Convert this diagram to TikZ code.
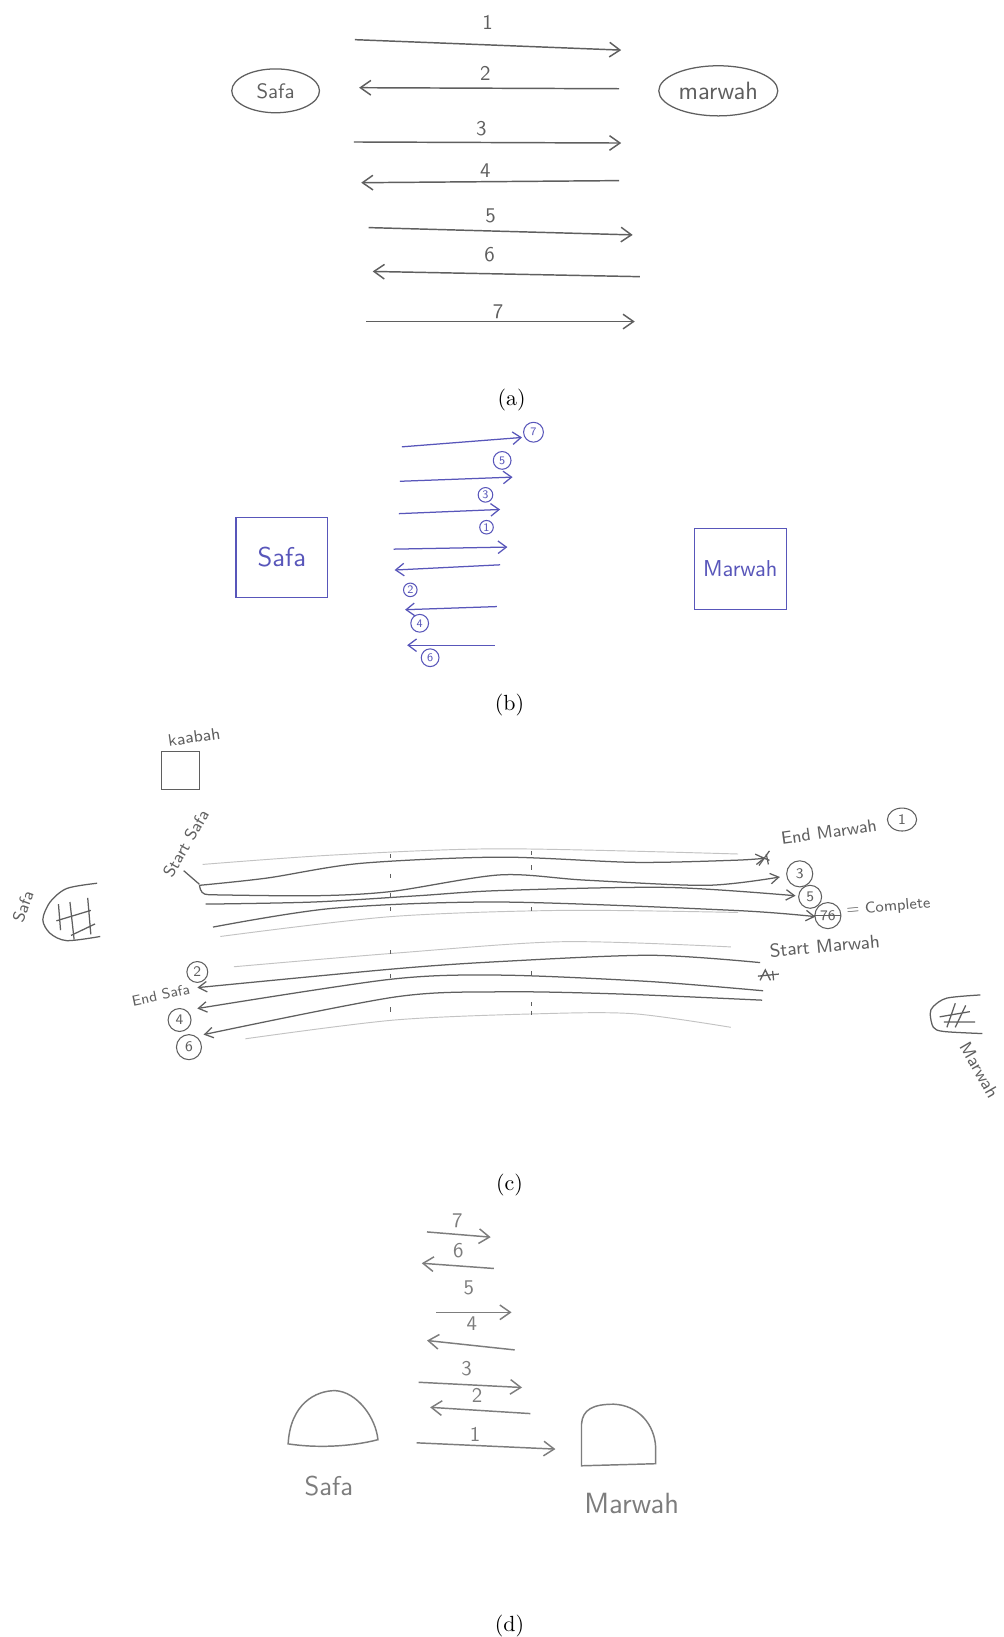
\documentclass[tikz,border=0pt]{standalone}
\usetikzlibrary{arrows.meta,positioning,shapes.geometric}
\definecolor{pencil}{RGB}{95,95,95}
\definecolor{pencilsoft}{RGB}{125,125,125}
\definecolor{pencilfaint}{RGB}{195,195,195}
\definecolor{inkblue}{RGB}{88,86,186}

\begin{document}
\begin{tikzpicture}[
        x=0.5pt, y=-0.5pt,
        hand/.style={font=\sffamily\fontsize{#1}{#1}\selectfont, text=pencil, inner sep=0pt},
        hand/.default=10,
        capt/.style={font=\fontsize{10.5}{12}\selectfont, inner sep=0pt},
        pen/.style={pencil, line width=0.7pt},
        parrow/.style={pen, -{Straight Barb[length=5pt,width=7pt]}},
        barrow/.style={inkblue, line width=0.6pt, -{Straight Barb[length=4pt,width=6pt]}},
        track/.style={pencilfaint, line width=0.45pt},
        walk/.style={pencil, line width=0.6pt},
        warrow/.style={walk, -{Straight Barb[length=4pt,width=5pt]}},
        ring/.style={circle, draw, inner sep=0pt, line width=0.5pt},
    ]
    \fill[white] (0,0) rectangle (961,1568);
    \useasboundingbox (0,0) rectangle (961,1568);

    % (a) seven runs, top to bottom
    \node[ellipse, draw=pencil, line width=0.6pt, minimum width=42pt, minimum height=21pt, hand=10] (safaA) at (264,87) {Safa};
    \node[ellipse, draw=pencil, line width=0.6pt, minimum width=57pt, minimum height=24pt, hand=12] (marwahA) at (688,87) {marwah};
    \foreach \n/\xs/\ys/\xe/\ye/\xl/\yl in {1/340/38/595/48/467/21, 2/593/85/344/84/465/70,
            3/339/136/595/137/461/123, 4/593/173/346/175/465/163, 5/353/218/606/225/470/207,
            6/613/265/357/260/469/244, 7/351/308/608/308/477/299}{
        \node[hand=10] (runA\n) at (\xl,\yl) {\n};
        \draw[parrow] (\xs,\ys) -- (\xe,\ye);
    }
    \node[capt] (captA) at (490,383) {(a)};

    % (b) blue ink, outgoing runs above, returns below
    \node[draw=inkblue, line width=0.6pt, minimum width=44pt, minimum height=38pt, font=\sffamily\fontsize{13}{13}\selectfont, text=inkblue] (safaB) at (270,534) {Safa};
    \node[draw=inkblue, line width=0.6pt, minimum width=44pt, minimum height=39pt, font=\sffamily\fontsize{11}{11}\selectfont, text=inkblue] (marwahB) at (709,545) {Marwah};
    \foreach \n/\xs/\ys/\xe/\ye/\xr/\yr/\sz in {7/385/428/500/419/511/414/9.5pt, 5/383/461/491/457/481/441/8.5pt,
            3/382/492/479/488/465/474/7pt, 1/377/526/486/524/466/505/6.5pt, 2/479/541/378/546/393/565/6.5pt,
            4/476/581/388/584/402/597/8.5pt, 6/474/618/390/618/412/630/8.5pt}{
        \draw[barrow] (\xs,\ys) -- (\xe,\ye);
        \node[ring, draw=inkblue, minimum size=\sz, font=\sffamily\fontsize{5.5}{5.5}\selectfont, text=inkblue] (runB\n) at (\xr,\yr) {\n};
    }
    \node[capt] (captB) at (488,675) {(b)};

    % (c) the walkway seen from above
    \node[draw=pencil, line width=0.5pt, minimum width=18.5pt, minimum height=18pt] (kaabah) at (173,738) {};
    \node[hand=8, rotate=8] (kaabahL) at (186,706) {kaabah};
    % Safa hill
    \draw[walk] plot[smooth] coordinates {(93,846) (64,851) (48,864) (41,881) (48,894) (64,901) (96,897)};
    \draw[walk] (56,866) -- (58,891) (67,864) -- (71,900) (84,860) -- (87,895) (54,882) -- (87,872) (68,896) -- (91,885);
    \node[hand=8, rotate=70] (safaC) at (22,868) {Safa};
    % Marwah hill
    \draw[walk] plot[smooth] coordinates {(939,953) (907,956) (894,964) (891,971) (894,984) (904,988) (941,990)};
    \draw[walk] (915,961) -- (907,984) (925,963) -- (915,984) (900,974) -- (929,969) (904,979) -- (934,979);
    \node[hand=8.5, rotate=-60] (marwahC) at (938,1025) {Marwah};
    % faint lanes
    \draw[track] plot[smooth] coordinates {(194,828) (319,819) (479,813) (707,818)};
    \draw[track] plot[smooth] coordinates {(211,897) (374,878) (539,872) (707,874)};
    \draw[track] plot[smooth] coordinates {(224,926) (378,913) (539,902) (700,907)};
    \draw[track] plot[smooth] coordinates {(235,995) (378,977) (517,971) (607,971) (700,984)};
    \foreach \xt/\yt in {374/821, 374/840, 374/858, 374/872, 374/913, 374/936, 374/968,
            509/818, 509/832, 509/872, 509/933, 509/963, 509/971}
        \draw[walk, line width=0.4pt] (\xt,\yt-3) -- (\xt,\yt+1);
    % laps 1 3 5 7 towards Marwah
    \draw[walk] (176,834) -- (191,847);
    \draw[warrow] plot[smooth] coordinates {(191,848) (256,841) (345,827) (479,821) (607,826) (703,824) (733,822)};
    \draw[walk] (191,848) .. controls (192,854) and (194,857) .. (200,857);
    \draw[warrow] plot[smooth] coordinates {(200,857) (300,858) (374,854) (479,838) (560,843) (677,848) (747,840)};
    \draw[warrow] plot[smooth] coordinates {(197,866) (300,864) (400,858) (479,853) (639,850) (762,858)};
    \draw[warrow] plot[smooth] coordinates {(204,888) (319,870) (479,864) (703,872) (781,878)};
    % laps 2 4 6 back to Safa
    \draw[warrow] plot[smooth] coordinates {(728,922) (623,915) (479,921) (378,928) (189,946)};
    \draw[warrow] plot[smooth] coordinates {(731,949) (620,940) (479,934) (374,938) (189,966)};
    \draw[warrow] plot[smooth] coordinates {(730,958) (591,952) (479,950) (378,955) (195,991)};
    % scratched ends
    \draw[walk] (727,829) -- (737,815) (729,821) -- (737,824) (734,818) -- (736,828);
    \draw[walk] (728,939) -- (733,929) -- (738,939) (726,935) -- (746,933) (740,930) -- (741,939);
    % lap numbers
    \node[ellipse, draw=pencil, line width=0.5pt, minimum width=14pt, minimum height=11pt, hand=7] (lapC1) at (864,785) {1};
    \foreach \n/\xr/\yr/\sz in {3/766/837/12.5pt, 5/776/859/11pt, 2/189/931/10pt, 4/172/977/11pt, 6/181/1003/12pt}
        \node[ring, draw=pencil, minimum size=\sz, hand=7] (lapC\n) at (\xr,\yr) {\n};
    \node[ring, draw=pencil, minimum size=12.5pt, hand=7] (lapC7) at (793,877) {76};
    \draw[walk] (lapC7.west) -- (lapC7.east);
    \node[hand=8.5, rotate=8] (endM) at (794,797) {End Marwah};
    \node[hand=7.5, rotate=5] (complete) at (851,869) {= Complete};
    \node[hand=9, rotate=5] (startM) at (790,906) {Start Marwah};
    \node[hand=7, rotate=12] (endS) at (154,953) {End Safa};
    \node[hand=8, rotate=60] (startS) at (178,808) {Start Safa};
    \node[capt] (captC) at (488,1135) {(c)};

    % (d) runs stacked upwards from the hills
    \draw[pen, pencilsoft] (276,1383) .. controls (278,1345) and (302,1332) .. (321,1332)
        .. controls (342,1333) and (360,1358) .. (362,1379) .. controls (335,1386) and (302,1387) .. cycle;
    \draw[pen, pencilsoft] (557,1404) -- (557,1364) .. controls (558,1350) and (568,1345) .. (588,1345)
        .. controls (612,1346) and (627,1365) .. (628,1386) -- (628,1402) -- cycle;
    \node[hand=13, text=pencilsoft] (safaD) at (315,1423) {Safa};
    \node[hand=14, text=pencilsoft] (marwahD) at (605,1440) {Marwah};
    \foreach \n/\xs/\ys/\xe/\ye/\xl/\yl in {1/399/1382/532/1388/455/1374, 2/508/1354/412/1348/457/1337,
            3/401/1324/500/1329/447/1311, 4/493/1293/409/1284/452/1268, 5/418/1257/490/1257/449/1234,
            6/473/1215/404/1210/439/1198, 7/409/1180/470/1185/438/1169}{
        \node[hand=10, text=pencilsoft] (runD\n) at (\xl,\yl) {\n};
        \draw[parrow, pencilsoft] (\xs,\ys) -- (\xe,\ye);
    }
    \node[capt] (captD) at (488,1557) {(d)};
\end{tikzpicture}
\end{document}
